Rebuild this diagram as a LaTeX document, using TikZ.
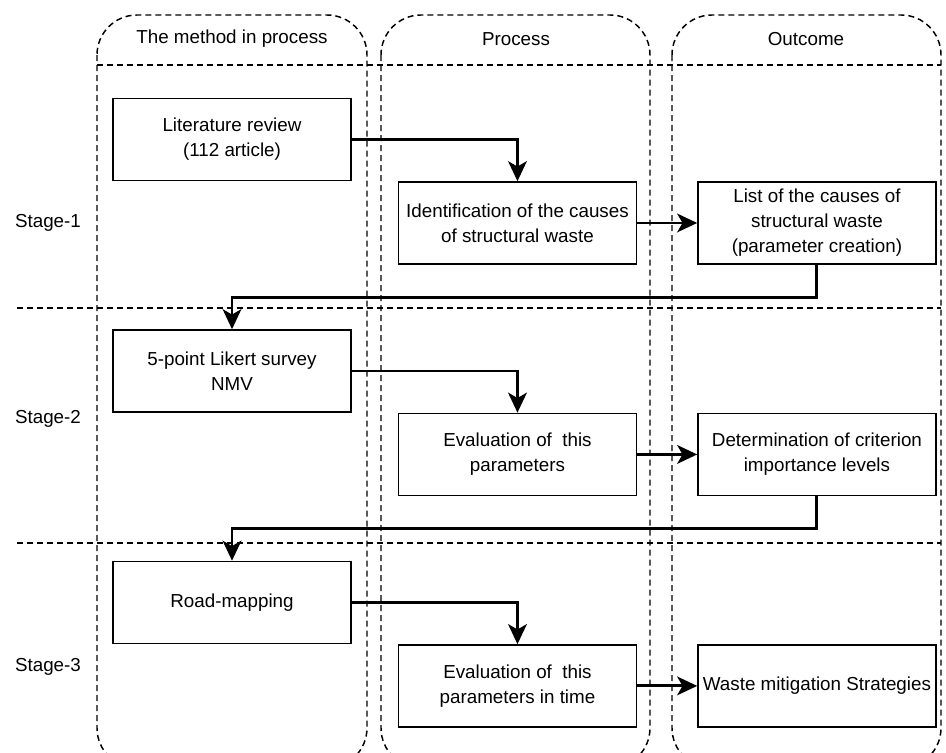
\documentclass[tikz,border=0pt]{standalone}
\usepackage{fontspec}
\setmainfont{Liberation Sans}
\usetikzlibrary{positioning, arrows.meta}
\tikzset{
>={Stealth[length=15pt, width=14pt, inset=4pt]}, % bold arrow heads
every node/.style={font=\fontsize{14.1}{18.75}\selectfont}, % text size of all nodes
box/.style={draw, line width=1.1pt, minimum width=178.5pt, minimum height=61.5pt, inner sep=2pt, align=center}, % the step boxes
lane/.style={draw, line width=1.1pt, dash pattern=on 4.5pt off 3pt, rounded corners=30pt}, % swimlane borders
divider/.style={draw, line width=1.1pt, dash pattern=on 4.5pt off 3pt}, % header and stage separators
link/.style={->, line width=2.2pt}, % connectors between steps
}

\begin{document}
\begin{tikzpicture}[x=0.75pt, y=-0.75pt, node distance=111pt]
  \useasboundingbox (0,0) rectangle (946,753);

  % Lanes
  \begin{scope}
    \clip (0,0) rectangle (946,753);
    \foreach \l/\r in {97/367, 381/650, 672/941}
      \draw[lane] (\l,15) rectangle (\r,768);
  \end{scope}
  \draw[divider] (97,65) -- (941,65);
  \draw[divider] (17,308) -- (941,308);
  \draw[divider] (17,543) -- (941,543);

  % Headers and stages
  \node (hmethod) at (232,39) {The method in process};
  \node (hprocess) at (516,39) {Process};
  \node (houtcome) at (806,39) {Outcome};
  \node (stage1) at (48,223) {Stage-1};
  \node (stage2) at (48,419) {Stage-2};
  \node (stage3) at (48,667) {Stage-3};

  % Steps
  \node[box] (lit) at (232,139.5) {Literature review\\(112 article)};
  \node[box, below right=0pt and 34.5pt of lit] (ident) {Identification of the causes\\of structural waste};
  \node[box, right=45pt of ident] (list) {List of the causes of\\structural waste\\(parameter creation)};
  \node[box, below=of lit] (likert) {5-point Likert survey\\NMV};
  \node[box, below=of ident] (eval) {Evaluation of~ this\\parameters};
  \node[box, right=45pt of eval] (crit) {Determination of criterion\\importance levels};
  \node[box, below=of likert] (road) {Road-mapping};
  \node[box, below=of eval] (evaltime) {Evaluation of~ this\\parameters in time};
  \node[box, right=45pt of evaltime] (waste) {Waste mitigation Strategies};

  % Connectors
  \draw[link] (lit.east) -| (ident.north);
  \draw[link] (ident.east) -- (list.west);
  \draw[link] (list.south) -- ++(0,33) -| (likert.north);
  \draw[link] (likert.east) -| (eval.north);
  \draw[link] (eval.east) -- (crit.west);
  \draw[link] (crit.south) -- ++(0,32) -| (road.north);
  \draw[link] (road.east) -| (evaltime.north);
  \draw[link] (evaltime.east) -- (waste.west);
\end{tikzpicture}
\end{document}
